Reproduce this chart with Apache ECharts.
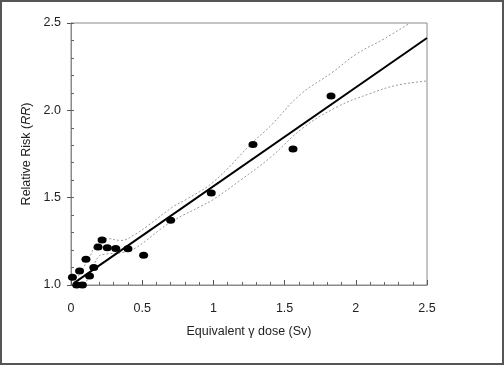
<!DOCTYPE html>
<html>
<head>
<meta charset="utf-8">
<script src="https://cdn.jsdelivr.net/npm/echarts@6/dist/echarts.min.js"></script>
<style>
html,body{margin:0;padding:0;background:#fff;}
#chart{width:504px;height:365px;}
</style>
</head>
<body>
<div id="chart"></div>
<script>
// Observed relative risk points [dose Sv, RR]
const obsDose = [0.01,0.04,0.06,0.08,0.105,0.13,0.16,0.19,0.218,0.255,0.314,0.40,0.51,0.70,0.985,1.278,1.559,1.826];
const obsRR   = [1.045,1.0,1.08,1.0,1.148,1.052,1.10,1.217,1.257,1.213,1.209,1.207,1.17,1.37,1.527,1.805,1.778,2.082];
// Fitted linear model endpoints
const fitDose = [0.02, 2.5];
const fitRR   = [1.011, 2.414];
// Upper confidence band
const upDose = [0.05,0.13,0.19,0.26,0.35,0.45,0.54,0.72,0.81,1.0,1.28,1.40,1.61,1.84,2.0,2.2,2.38];
const upRR   = [1.05,1.16,1.25,1.265,1.255,1.29,1.34,1.45,1.49,1.59,1.82,1.91,2.09,2.22,2.32,2.41,2.50];
// Lower confidence band
const loDose = [0.1,0.19,0.24,0.36,0.45,0.63,0.72,0.91,1.0,1.19,1.40,1.63,1.87,2.10,2.29,2.5];
const loRR   = [1.0,1.16,1.176,1.186,1.21,1.32,1.37,1.45,1.49,1.60,1.73,1.90,2.02,2.096,2.144,2.168];

const xTicks = [0, 0.5, 1, 1.5, 2, 2.5];
const yTicks = [1.0, 1.5, 2.0, 2.5];

const zip = (a, b) => a.map((v, i) => [v, b[i]]);
const FONT = '"Liberation Sans", Arial, sans-serif';

const chart = echarts.init(document.getElementById('chart'), null, {renderer: 'canvas'});
chart.setOption({
  animation: false,
  backgroundColor: '#fff',
  grid: {left: 71, right: 77, top: 23, bottom: 80, show: true, borderColor: '#8a8a8a', borderWidth: 1},
  xAxis: {
    type: 'value', min: xTicks[0], max: xTicks[xTicks.length - 1], interval: 0.5,
    name: 'Equivalent γ dose (Sv)', nameLocation: 'middle', nameGap: 40,
    nameTextStyle: {fontFamily: FONT, fontSize: 12.5, color: '#222'},
    axisLine: {show: true, lineStyle: {color: '#8a8a8a', width: 1}},
    axisTick: {show: true, inside: true, length: 5, lineStyle: {color: '#555'}},
    minorTick: {show: true, splitNumber: 5, length: 3, lineStyle: {color: '#666'}},
    axisLabel: {fontFamily: FONT, fontSize: 12.5, color: '#222', margin: 17},
    splitLine: {show: false}
  },
  yAxis: [{
    type: 'value', min: yTicks[0], max: yTicks[yTicks.length - 1], interval: 0.5,
    name: 'Relative Risk ({i|RR})', nameLocation: 'middle', nameGap: 38, nameRotate: 90,
    nameTextStyle: {fontFamily: FONT, fontSize: 12.5, color: '#222',
      rich: {i: {fontFamily: FONT, fontSize: 12.5, fontStyle: 'italic', color: '#222'}}},
    axisLine: {show: true, lineStyle: {color: '#8a8a8a', width: 1}},
    axisTick: {show: true, inside: false, length: 4, lineStyle: {color: '#555'}},
    axisLabel: {fontFamily: FONT, fontSize: 12.5, color: '#222', margin: 10, formatter: v => v.toFixed(1)},
    splitLine: {show: false}
  }, {
    type: 'value', position: 'left', min: yTicks[0], max: yTicks[yTicks.length - 1], interval: 0.1,
    axisLine: {show: false},
    axisTick: {show: true, inside: true, length: 3, lineStyle: {color: '#666'}},
    axisLabel: {show: false},
    splitLine: {show: false}
  }],
  series: [{
    type: 'line', data: zip(upDose, upRR), smooth: 0.4, symbol: 'none', clip: true,
    lineStyle: {color: '#9a9a9a', width: 1, type: [2, 2]}, z: 2
  }, {
    type: 'line', data: zip(loDose, loRR), smooth: 0.4, symbol: 'none', clip: true,
    lineStyle: {color: '#9a9a9a', width: 1, type: [2, 2]}, z: 2
  }, {
    type: 'line', data: zip(fitDose, fitRR), symbol: 'none',
    lineStyle: {color: '#000', width: 2}, z: 3
  }, {
    type: 'scatter', data: zip(obsDose, obsRR), symbol: 'circle', symbolSize: [9, 7],
    itemStyle: {color: '#000', opacity: 1}, z: 4
  }],
  graphic: [{
    type: 'rect', shape: {x: 1, y: 1, width: 502, height: 363},
    style: {fill: 'none', stroke: '#555', lineWidth: 2}, silent: true
  }]
});
</script>
</body>
</html>
